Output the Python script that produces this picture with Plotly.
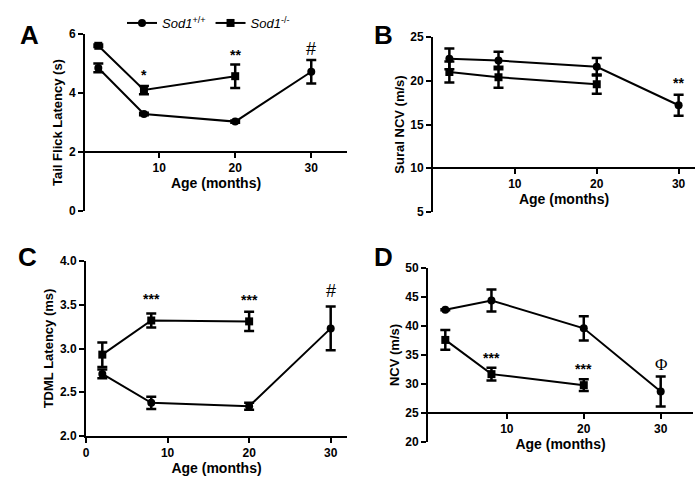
import plotly.graph_objects as go

W, H = 699, 480

# ages (months)
age_wt = [2, 8, 20, 30]
age_ko = [2, 8, 20]

# A - tail flick latency (s)
tf_wt = [4.85, 3.29, 3.03, 4.72]
tf_wt_err = [0.15, 0.04, 0.04, 0.40]
tf_ko = [5.60, 4.10, 4.57]
tf_ko_err = [0.04, 0.14, 0.40]

# B - sural NCV (m/s)
sncv_wt = [22.5, 22.3, 21.6, 17.2]
sncv_wt_err = [1.2, 1.0, 1.0, 1.2]
sncv_ko = [21.0, 20.4, 19.6]
sncv_ko_err = [1.2, 1.2, 1.1]

# C - TDML latency (ms)
tdml_wt = [2.71, 2.38, 2.34, 3.23]
tdml_wt_err = [0.05, 0.07, 0.04, 0.25]
tdml_ko = [2.93, 3.32, 3.31]
tdml_ko_err = [0.14, 0.08, 0.11]

# D - NCV (m/s)
ncv_wt = [42.8, 44.4, 39.6, 28.7]
ncv_wt_err = [0.1, 1.9, 2.1, 2.6]
ncv_ko = [37.6, 31.7, 29.8]
ncv_ko_err = [1.7, 1.1, 1.0]

BLACK = "black"
FONT = "Liberation Sans"


def px_x(p):
    return p / W


def px_y(p):
    return 1 - p / H


fig = go.Figure()

panels = [
    # (wt, wt_err, ko, ko_err, xaxis, yaxis)
    (tf_wt, tf_wt_err, tf_ko, tf_ko_err, "x", "y"),
    (sncv_wt, sncv_wt_err, sncv_ko, sncv_ko_err, "x2", "y2"),
    (tdml_wt, tdml_wt_err, tdml_ko, tdml_ko_err, "x3", "y3"),
    (ncv_wt, ncv_wt_err, ncv_ko, ncv_ko_err, "x4", "y4"),
]

for i, (wt, wte, ko, koe, xa, ya) in enumerate(panels):
    fig.add_trace(go.Scatter(
        x=age_wt, y=wt, xaxis=xa, yaxis=ya, mode="lines+markers",
        name="<i>Sod1</i><sup>+/+</sup>", showlegend=(i == 0),
        line=dict(color=BLACK, width=2),
        marker=dict(symbol="circle", size=8, color=BLACK),
        error_y=dict(type="data", array=wte, color=BLACK, thickness=2.5, width=5),
    ))
    fig.add_trace(go.Scatter(
        x=age_ko, y=ko, xaxis=xa, yaxis=ya, mode="lines+markers",
        name="<i>Sod1</i><sup>-/-</sup>", showlegend=(i == 0),
        line=dict(color=BLACK, width=2),
        marker=dict(symbol="square", size=8, color=BLACK),
        error_y=dict(type="data", array=koe, color=BLACK, thickness=2.5, width=5),
    ))

tickfont = dict(family=FONT, size=12, color=BLACK)
titlefont = dict(family=FONT, size=13, color=BLACK)


def xax(dom, rng, ticks, pos, anchor):
    d = dict(domain=[px_x(dom[0]), px_x(dom[1])], range=rng, tickvals=ticks,
             ticktext=["<b>%d</b>" % t for t in ticks], automargin=False,
             showline=True, linecolor=BLACK, linewidth=2, ticks="outside",
             ticklen=5, tickwidth=2, tickcolor=BLACK, showgrid=False, zeroline=False,
             tickfont=tickfont,
             title=dict(text="<b>Age (months)</b>", font=dict(family=FONT, size=14, color=BLACK), standoff=2))
    if pos is None:
        d["anchor"] = anchor
    else:
        d["anchor"] = "free"
        d["position"] = pos
    return d


def yax(dom, rng, ticks, fmt, title, anchor):
    return dict(domain=[px_y(dom[1]), px_y(dom[0])], range=rng, tickvals=ticks,
                ticktext=["<b>" + fmt % t + "</b>" for t in ticks], automargin=False,
                showline=True, linecolor=BLACK, linewidth=2, ticks="outside",
                ticklen=5, tickwidth=2, tickcolor=BLACK, showgrid=False, zeroline=False,
                tickfont=tickfont, anchor=anchor,
                title=dict(text="<b>" + title + "</b>", font=titlefont, standoff=3))


fig.update_layout(
    xaxis=xax((85, 347), [0.25, 34.7], [10, 20, 30], px_y(152), "y"),
    yaxis=yax((34, 211), [0, 6], [0, 2, 4, 6], "%d", "Tail Flick Latency (s)", "x"),
    xaxis2=xax((433, 695), [0, 32], [10, 20, 30], px_y(168), "y2"),
    yaxis2=yax((37, 212), [5, 25], [5, 10, 15, 20, 25], "%d", "Sural NCV (m/s)", "x2"),
    xaxis3=xax((86, 347), [0, 32], [0, 10, 20, 30], None, "y3"),
    yaxis3=yax((261, 436), [2, 4], [2.0, 2.5, 3.0, 3.5, 4.0], "%.1f", "TDML Latency (ms)", "x3"),
    xaxis4=xax((428, 693), [-0.25, 34.2], [10, 20, 30], px_y(413), "y4"),
    yaxis4=yax((268, 442), [20, 50], [20, 25, 30, 35, 40, 45, 50], "%d", "NCV (m/s)", "x4"),
)

# significance marks
marks = [
    ("x", "y", 8, 4.62, "<b>*</b>", 14, FONT),
    ("x", "y", 20, 5.3, "<b>**</b>", 14, FONT),
    ("x", "y", 30, 5.5, "#", 18, FONT),
    ("x2", "y2", 30, 19.7, "<b>**</b>", 14, FONT),
    ("x3", "y3", 8, 3.57, "<b>***</b>", 14, FONT),
    ("x3", "y3", 20, 3.56, "<b>***</b>", 14, FONT),
    ("x3", "y3", 30, 3.66, "#", 18, FONT),
    ("x4", "y4", 8, 34.4, "<b>***</b>", 14, FONT),
    ("x4", "y4", 20, 32.6, "<b>***</b>", 14, FONT),
    ("x4", "y4", 30, 33.4, "Φ", 17, "Liberation Serif"),
]
for xa, ya, x, y, t, s, f in marks:
    fig.add_annotation(x=x, y=y, xref=xa, yref=ya, text=t, showarrow=False,
                       font=dict(family=f, size=s, color=BLACK))

# panel letters
for lab, x, y in [("A", 18, 18), ("B", 383, 18), ("C", 16, 257), ("D", 383, 257)]:
    fig.add_annotation(x=px_x(x), y=px_y(y), xref="paper", yref="paper", text="<b>%s</b>" % lab,
                       showarrow=False, font=dict(family=FONT, size=26, color=BLACK))

fig.update_layout(
    width=W, height=H,
    margin=dict(l=0, r=0, t=0, b=0),
    paper_bgcolor="white", plot_bgcolor="white",
    font=dict(family=FONT, color=BLACK),
    legend=dict(orientation="h", x=px_x(122), y=px_y(8), xanchor="left", yanchor="top",
                font=dict(family=FONT, size=13, color=BLACK), bgcolor="rgba(0,0,0,0)",
                itemwidth=30, tracegroupgap=0),
)

# page body has a default 8px margin; drop it so the figure fills the window
fig.write_html("out.html", config={"displayModeBar": False},
               post_script="document.body.style.margin='0px';")
